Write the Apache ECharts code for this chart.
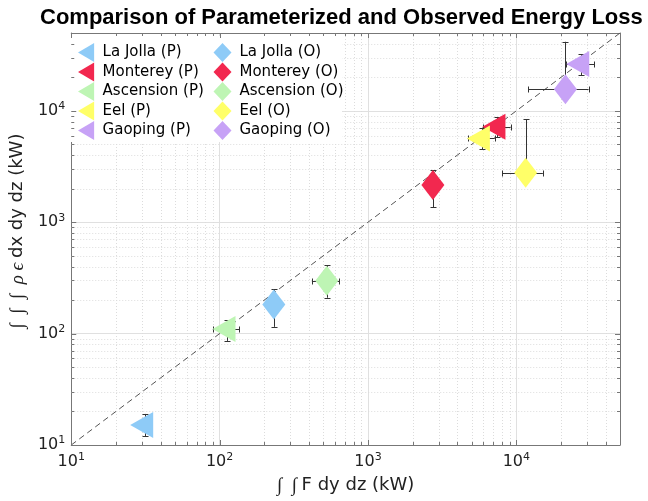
<!DOCTYPE html>
<html>
<head>
<meta charset="utf-8">
<script src="https://cdn.jsdelivr.net/npm/echarts@6/dist/echarts.min.js"></script>
<style>html,body{margin:0;padding:0;background:#fff;}#c{width:648px;height:501px;}</style>
</head>
<body>
<div id="c"></div>
<script>
// ---------- data ----------
const sites = ['La Jolla', 'Monterey', 'Ascension', 'Eel', 'Gaoping'];
const siteColors = ['#8ECBF7', '#F2284F', '#BEF5B4', '#FFFF68', '#C7A2F6'];

// Parameterized (P): triangles
const pX     = [31.5, 7460, 113, 5860, 27400];
const pY     = [15.1, 7190, 110, 5660, 26300];
const pYLow  = [12.0, 5780, 86, 4510, 20900];
const pYHigh = [19.0, 8750, 132, 6970, 32100];
const pXLow  = [null, 5930, 90, 4700, 21700];
const pXHigh = [null, 9160, 136, 7160, 33500];

// Observed (O): diamonds
const oX     = [232, 2740, 528, 11560, 21440];
const oY     = [183, 2160, 298, 2780, 15600];
const oYLow  = [115, 1360, 210, null, null];
const oYHigh = [250, 2940, 410, 8400, 41700];
const oXLow  = [null, null, 419, 8070, 12050];
const oXHigh = [null, null, 638, 15100, 30700];

// axes
const axisMin = 10, axisMax = 50000;
const tickValues = [10, 100, 1000, 10000];
const refLine = [10, 50000];

// ---------- helpers ----------
const FONT = "'DejaVu Sans', sans-serif";
const SERIF = "'Liberation Serif', 'DejaVu Serif', serif";
const minorVals = [];
for (let k = 1; k <= 4; k++) for (let m = 2; m <= 9; m++) { const v = m * Math.pow(10, k); if (v < axisMax) minorVals.push(v); }

const tickFormatter = v => {
  const hit = tickValues.find(t => Math.abs(t - v) / t < 1e-6);
  if (!hit) return '';
  return '{b|10}{s|' + Math.round(Math.log10(hit)) + '}';
};
const tickRich = {
  b: { fontSize: 16, fontFamily: FONT, color: '#222' },
  s: { fontSize: 11, fontFamily: FONT, color: '#222', padding: [0, 0, 9, 0] }
};

const EDGE = '#777';
const triPath = 'path://M0,13L23,0L23,26Z';
const triIcon = 'path://M0,10L17,0L17,20Z';

function errSeries(name, x, y, yl, yh, xl, xh, z) {
  const d = [[x, y, yl == null ? y : yl, yh == null ? y : yh, xl == null ? x : xl, xh == null ? x : xh]];
  return {
    name: name, type: 'custom', silent: true, z: z, clip: false,
    data: d,
    renderItem: function (params, api) {
      const vx = api.value(0), vy = api.value(1);
      const c = api.coord([vx, vy]);
      const ch = [];
      const st = { stroke: '#333', lineWidth: 1 };
      const cap = 3;
      const cx = Math.round(c[0]) + 0.5, cy = Math.round(c[1]) + 0.5;
      const yl = api.value(2), yh = api.value(3), xl = api.value(4), xh = api.value(5);
      if (yl !== vy || yh !== vy) {
        const a = api.coord([vx, yl])[1], b = api.coord([vx, yh])[1];
        ch.push({ type: 'line', shape: { x1: cx, y1: a, x2: cx, y2: b }, style: st });
        if (yl !== vy) ch.push({ type: 'line', shape: { x1: cx - cap, y1: Math.round(a) + 0.5, x2: cx + cap, y2: Math.round(a) + 0.5 }, style: st });
        if (yh !== vy) ch.push({ type: 'line', shape: { x1: cx - cap, y1: Math.round(b) + 0.5, x2: cx + cap, y2: Math.round(b) + 0.5 }, style: st });
      }
      if (xl !== vx || xh !== vx) {
        const a = api.coord([xl, vy])[0], b = api.coord([xh, vy])[0];
        ch.push({ type: 'line', shape: { x1: a, y1: cy, x2: b, y2: cy }, style: st });
        if (xl !== vx) ch.push({ type: 'line', shape: { x1: Math.round(a) + 0.5, y1: cy - cap, x2: Math.round(a) + 0.5, y2: cy + cap }, style: st });
        if (xh !== vx) ch.push({ type: 'line', shape: { x1: Math.round(b) + 0.5, y1: cy - cap, x2: Math.round(b) + 0.5, y2: cy + cap }, style: st });
      }
      return { type: 'group', children: ch };
    }
  };
}

const series = [];

// minor dotted grid
const gridData = minorVals.map(v => [v, axisMin, 0]).concat(minorVals.map(v => [axisMin, v, 1]));
series.push({
  type: 'custom', silent: true, z: 0.5, clip: false, data: gridData,
  renderItem: function (params, api) {
    const t = api.value(2);
    let p1, p2;
    if (t === 0) { p1 = api.coord([api.value(0), axisMin]); p2 = api.coord([api.value(0), axisMax]); const x = Math.round(p1[0]) + 0.5; p1[0] = x; p2[0] = x; }
    else { p1 = api.coord([axisMin, api.value(1)]); p2 = api.coord([axisMax, api.value(1)]); const y = Math.round(p1[1]) + 0.5; p1[1] = y; p2[1] = y; }
    return { type: 'line', shape: { x1: p1[0], y1: p1[1], x2: p2[0], y2: p2[1] }, style: { stroke: '#dcdcdc', lineWidth: 1, lineDash: [1, 2] } };
  }
});

// inward ticks on all four sides
const allTicks = tickValues.map(v => [v, 1]).concat(minorVals.map(v => [v, 0]));
const tickData = allTicks.map(t => [t[0], axisMin, 0, t[1]]).concat(allTicks.map(t => [axisMin, t[0], 1, t[1]]));
series.push({
  type: 'custom', silent: true, z: 3, clip: false, data: tickData,
  renderItem: function (params, api) {
    const t = api.value(2), L = api.value(3) ? 5 : 3;
    const st = { stroke: EDGE, lineWidth: 1 };
    if (t === 0) {
      const v = api.value(0);
      const pb = api.coord([v, axisMin]), pt = api.coord([v, axisMax]);
      const x = Math.round(pb[0]) + 0.5;
      return { type: 'group', children: [
        { type: 'line', shape: { x1: x, y1: pb[1], x2: x, y2: pb[1] - L }, style: st },
        { type: 'line', shape: { x1: x, y1: pt[1], x2: x, y2: pt[1] + L }, style: st }
      ] };
    } else {
      const v = api.value(1);
      const pl = api.coord([axisMin, v]), pr = api.coord([axisMax, v]);
      const y = Math.round(pl[1]) + 0.5;
      return { type: 'group', children: [
        { type: 'line', shape: { x1: pl[0], y1: y, x2: pl[0] + L, y2: y }, style: st },
        { type: 'line', shape: { x1: pr[0], y1: y, x2: pr[0] - L, y2: y }, style: st }
      ] };
    }
  }
});

// 1:1 reference line
series.push({
  type: 'line', silent: true, z: 2, symbol: 'none',
  data: [[refLine[0], refLine[0]], [refLine[1], refLine[1]]],
  lineStyle: { color: '#555', width: 1, type: [6, 4] }
});

let z = 10;
for (let i = 0; i < sites.length; i++) {
  series.push(errSeries('errP' + i, pX[i], pY[i], pYLow[i], pYHigh[i], pXLow[i], pXHigh[i], z++));
  series.push({
    name: sites[i] + ' (P)', type: 'scatter', z: z++,
    data: [[pX[i], pY[i]]],
    symbol: triPath, symbolSize: [23, 26], symbolOffset: [-3.5, 0],
    itemStyle: { color: siteColors[i], opacity: 1 }
  });
}
for (let i = 0; i < sites.length; i++) {
  series.push(errSeries('errO' + i, oX[i], oY[i], oYLow[i], oYHigh[i], oXLow[i], oXHigh[i], z++));
  series.push({
    name: sites[i] + ' (O)', type: 'scatter', z: z++,
    data: [[oX[i], oY[i]]],
    symbol: 'diamond', symbolSize: [23, 30],
    itemStyle: { color: siteColors[i], opacity: 1 }
  });
}

const legendText = { fontSize: 15, fontFamily: FONT, color: '#000', padding: [0, 0, 0, 3] };

const option = {
  animation: false,
  backgroundColor: '#fff',
  title: {
    text: 'Comparison of Parameterized and Observed Energy Loss',
    left: 40, top: 7, padding: 0,
    textStyle: { fontFamily: "'Liberation Sans', Arial, sans-serif", fontWeight: 'bold', fontSize: 22, color: '#000' }
  },
  grid: { left: 68, right: 28, top: 33, bottom: 56, containLabel: false },
  graphic: [{ type: 'rect', z: 1, silent: true, shape: { x: 70, y: 36, width: 272, height: 106 }, style: { fill: '#fff' } }],
  legend: [
    {
      orient: 'vertical', left: 78, top: 43, padding: 0, itemGap: 0.5, itemWidth: 17, itemHeight: 19,
      textStyle: legendText,
      data: sites.map(s => ({ name: s + ' (P)', icon: triIcon }))
    },
    {
      orient: 'vertical', left: 213.5, top: 43, padding: 0, itemGap: 0.5, itemWidth: 18, itemHeight: 19,
      textStyle: legendText,
      data: sites.map(s => ({ name: s + ' (O)', icon: 'diamond' }))
    }
  ],
  xAxis: [
    {
      type: 'log', logBase: 10, min: axisMin, max: axisMax, position: 'bottom',
      axisLine: { show: true, lineStyle: { color: EDGE, width: 1 } },
      axisTick: { show: false },
      splitLine: { show: true, lineStyle: { color: '#e0e0e0', width: 1 } },
      axisLabel: { formatter: tickFormatter, rich: tickRich, margin: 7, showMaxLabel: false },
      name: '{m|∫  ∫ }{t|F dy dz (kW)}', nameLocation: 'middle', nameGap: 31,
      nameTextStyle: {
        rich: {
          m: { fontFamily: SERIF, fontStyle: 'italic', fontSize: 19, color: '#222' },
          t: { fontFamily: FONT, fontSize: 18, color: '#222' }
        }
      }
    },
    {
      type: 'log', logBase: 10, min: axisMin, max: axisMax, position: 'top',
      axisLine: { show: true, lineStyle: { color: EDGE, width: 1 } },
      axisTick: { show: false }, axisLabel: { show: false }, splitLine: { show: false }
    }
  ],
  yAxis: [
    {
      type: 'log', logBase: 10, min: axisMin, max: axisMax, position: 'left',
      axisLine: { show: true, lineStyle: { color: EDGE, width: 1 } },
      axisTick: { show: false },
      splitLine: { show: true, lineStyle: { color: '#e0e0e0', width: 1 } },
      axisLabel: { formatter: tickFormatter, rich: tickRich, margin: 6, showMaxLabel: false },
      name: '{m|∫  ∫  ∫  ρ ϵ }{t|dx dy dz (kW)}', nameLocation: 'middle', nameGap: 34, nameRotate: 90,
      nameTextStyle: {
        padding: [0, 0, 0, 16],
        rich: {
          m: { fontFamily: SERIF, fontStyle: 'italic', fontSize: 19, color: '#222' },
          t: { fontFamily: FONT, fontSize: 18, color: '#222' }
        }
      }
    },
    {
      type: 'log', logBase: 10, min: axisMin, max: axisMax, position: 'right',
      axisLine: { show: true, lineStyle: { color: EDGE, width: 1 } },
      axisTick: { show: false }, axisLabel: { show: false }, splitLine: { show: false }
    }
  ],
  series: series
};

const chart = echarts.init(document.getElementById('c'), null, { renderer: 'canvas' });
chart.setOption(option);
</script>
</body>
</html>
